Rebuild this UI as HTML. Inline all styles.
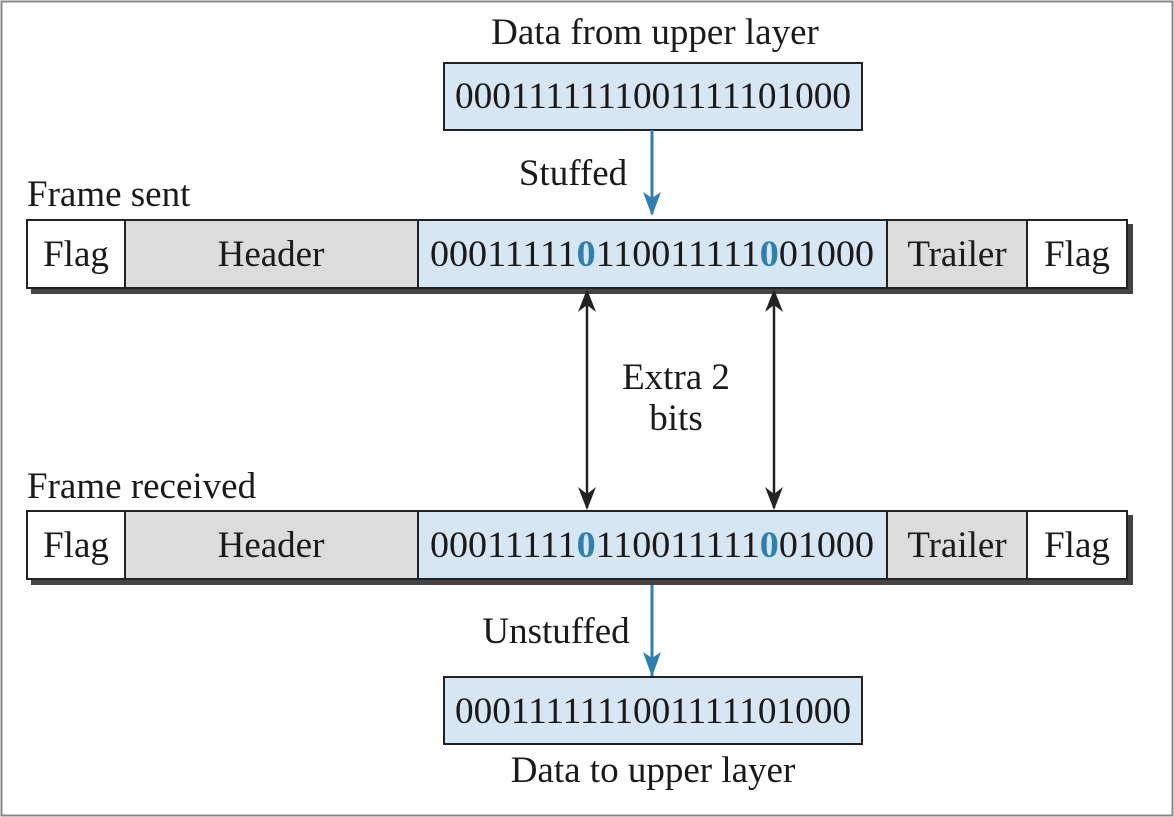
<!DOCTYPE html>
<html><head><meta charset="utf-8"><style>
html,body{margin:0;padding:0;background:#fff;}
svg{display:block;}
text{font-family:"Liberation Serif",serif;fill:#1a1a1a;}
</style></head><body>
<svg width="1174" height="817" viewBox="0 0 1174 817" xmlns="http://www.w3.org/2000/svg">
<rect x="1.5" y="1.5" width="1171" height="814" fill="#fff" stroke="#888" stroke-width="2"/>
<!-- Top -->
<text x="655" y="44" font-size="37" text-anchor="middle">Data from upper layer</text>
<rect x="444" y="63" width="418" height="67" fill="#d6e6f2" stroke="#222" stroke-width="2"/>
<text x="653" y="108" font-size="37" text-anchor="middle" textLength="396" lengthAdjust="spacingAndGlyphs">0001111111001111101000</text>
<line x1="652" y1="130" x2="652" y2="214" stroke="#2f7fb0" stroke-width="3"/>
<path d="M643,192 L652,198 L661,192 L652,216 Z" fill="#2f7fb0"/>
<text x="573" y="185" font-size="37" text-anchor="middle">Stuffed</text>

<!-- Frame sent -->
<text x="27" y="206" font-size="37">Frame sent</text>
<rect x="31" y="288" width="1102" height="6" fill="#444"/>
<rect x="1127" y="224" width="6" height="70" fill="#444"/>
<rect x="27" y="220" width="1100" height="68" fill="#fff" stroke="#222" stroke-width="2"/>
<rect x="125" y="221" width="293" height="66" fill="#dcdcdc"/>
<rect x="418" y="221" width="469" height="66" fill="#d6e6f2"/>
<rect x="887" y="221" width="140" height="66" fill="#dcdcdc"/>
<line x1="125" y1="220" x2="125" y2="288" stroke="#222" stroke-width="2"/>
<line x1="418" y1="220" x2="418" y2="288" stroke="#222" stroke-width="2"/>
<line x1="887" y1="220" x2="887" y2="288" stroke="#222" stroke-width="2"/>
<line x1="1027" y1="220" x2="1027" y2="288" stroke="#222" stroke-width="2"/>
<text x="76" y="266" font-size="37" text-anchor="middle">Flag</text>
<text x="271" y="266" font-size="37" text-anchor="middle">Header</text>
<text x="652" y="266" font-size="37" text-anchor="middle" textLength="444" lengthAdjust="spacingAndGlyphs">00011111<tspan fill="#2f7fb0" font-weight="bold">0</tspan>110011111<tspan fill="#2f7fb0" font-weight="bold">0</tspan>01000</text>
<text x="957" y="266" font-size="37" text-anchor="middle">Trailer</text>
<text x="1077" y="266" font-size="37" text-anchor="middle">Flag</text>

<!-- double arrows -->
<g stroke="#222" stroke-width="2.5">
<line x1="587" y1="292" x2="587" y2="508"/>
<line x1="774" y1="292" x2="774" y2="508"/>
</g>
<g fill="#222">
<path d="M587,289 L596,312 L587,305 L578,312 Z"/>
<path d="M774,289 L783,312 L774,305 L765,312 Z"/>
<path d="M587,510 L596,487 L587,494 L578,487 Z"/>
<path d="M774,510 L783,487 L774,494 L765,487 Z"/>
</g>
<text x="676" y="389" font-size="37" text-anchor="middle">Extra 2</text>
<text x="676" y="430" font-size="37" text-anchor="middle">bits</text>

<!-- Frame received -->
<text x="27" y="498" font-size="37">Frame received</text>
<rect x="31" y="579" width="1102" height="6" fill="#444"/>
<rect x="1127" y="515" width="6" height="70" fill="#444"/>
<rect x="27" y="511" width="1100" height="68" fill="#fff" stroke="#222" stroke-width="2"/>
<rect x="125" y="512" width="293" height="66" fill="#dcdcdc"/>
<rect x="418" y="512" width="469" height="66" fill="#d6e6f2"/>
<rect x="887" y="512" width="140" height="66" fill="#dcdcdc"/>
<line x1="125" y1="511" x2="125" y2="579" stroke="#222" stroke-width="2"/>
<line x1="418" y1="511" x2="418" y2="579" stroke="#222" stroke-width="2"/>
<line x1="887" y1="511" x2="887" y2="579" stroke="#222" stroke-width="2"/>
<line x1="1027" y1="511" x2="1027" y2="579" stroke="#222" stroke-width="2"/>
<text x="76" y="557" font-size="37" text-anchor="middle">Flag</text>
<text x="271" y="557" font-size="37" text-anchor="middle">Header</text>
<text x="652" y="557" font-size="37" text-anchor="middle" textLength="444" lengthAdjust="spacingAndGlyphs">00011111<tspan fill="#2f7fb0" font-weight="bold">0</tspan>110011111<tspan fill="#2f7fb0" font-weight="bold">0</tspan>01000</text>
<text x="957" y="557" font-size="37" text-anchor="middle">Trailer</text>
<text x="1077" y="557" font-size="37" text-anchor="middle">Flag</text>

<!-- bottom -->
<line x1="652" y1="585" x2="652" y2="676" stroke="#2f7fb0" stroke-width="3"/>
<path d="M643,652 L652,658 L661,652 L652,677 Z" fill="#2f7fb0"/>
<text x="556" y="643" font-size="37" text-anchor="middle">Unstuffed</text>
<rect x="444" y="677" width="418" height="67" fill="#d6e6f2" stroke="#222" stroke-width="2"/>
<text x="653" y="723" font-size="37" text-anchor="middle" textLength="396" lengthAdjust="spacingAndGlyphs">0001111111001111101000</text>
<text x="653" y="782" font-size="37" text-anchor="middle">Data to upper layer</text>
</svg>
</body></html>
